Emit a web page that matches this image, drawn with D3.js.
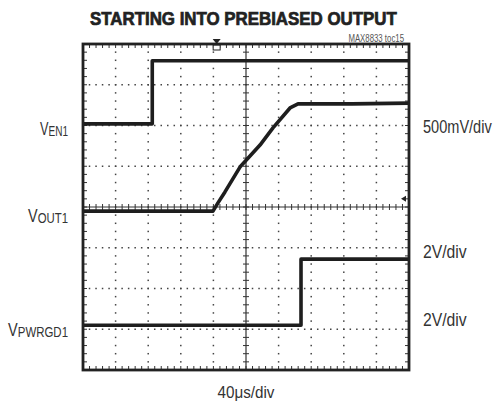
<!DOCTYPE html>
<html>
<head>
<meta charset="utf-8">
<script src="https://cdn.jsdelivr.net/npm/d3@7"></script>
<style>
  body { margin: 0; background: #fff; }
  svg { display: block; }
  .lbl { font-family: "Liberation Sans", Arial, sans-serif; fill: #333; }
</style>
</head>
<body>
<div id="chart"></div>
<script>
// scope trace data: time in µs (40µs/div), level in divisions from bottom of screen
const ven1Time = [0, 85, 85, 400];
const ven1Level = [6.04, 6.04, 7.59, 7.59];

const vout1Time = [0, 159.5, 165.6, 174.2, 192.6, 217.2, 233.1, 254.0, 263.8, 330, 400];
const vout1Level = [3.90, 3.90, 4.10, 4.37, 4.98, 5.52, 5.94, 6.43, 6.53, 6.53, 6.55];

const vpwrgdTime = [0, 267.5, 267.5, 400];
const vpwrgdLevel = [1.10, 1.10, 2.72, 2.72];

const leftLabels = [
    { main: "V", sub: "EN1", level: 6.04, width: 28 },
    { main: "V", sub: "OUT1", level: 3.90, width: 40 },
    { main: "V", sub: "PWRGD1", level: 1.10, width: 60 }
];
const rightLabels = [
    { text: "500mV/div", baseline: 133, width: 69 },
    { text: "2V/div", baseline: 258, width: 44 },
    { text: "2V/div", baseline: 326, width: 44 }
];

const triggerTime = 164;
const xDivs = 10, yDivs = 8;

// squeeze a text horizontally to a given width, keeping its anchor point fixed
function fitWidth(node, width, anchorX) {
    const w = node.getBBox().width;
    if (!w) return;
    const s = width / w;
    d3.select(node).attr("transform", `translate(${anchorX},0) scale(${s},1) translate(${-anchorX},0)`);
}

function drawScope(targetId) {
    const W = 497, H = 404;
    const frame = { left: 83, right: 409, top: 44, bottom: 370 };

    const svg = d3.select(`#${targetId}`)
        .append("svg")
        .attr("width", W)
        .attr("height", H);

    svg.append("rect").attr("width", W).attr("height", H).attr("fill", "#fff");

    const x = d3.scaleLinear().domain([0, 400]).range([frame.left, frame.right]);
    const y = d3.scaleLinear().domain([0, yDivs]).range([frame.bottom, frame.top]);
    const xd = d3.scaleLinear().domain([0, xDivs]).range([frame.left, frame.right]);

    const g = svg.append("g");

    // dotted graticule
    const minorX = d3.range(0, xDivs * 5 + 1).map(i => i / 5);
    const minorY = d3.range(0, yDivs * 5 + 1).map(i => i / 5);

    d3.range(1, xDivs).filter(i => i !== 5).forEach(i => {
        g.selectAll(null).data(minorY.slice(1, -1)).enter().append("rect")
            .attr("x", xd(i) - 0.75).attr("y", d => y(d) - 0.75)
            .attr("width", 1.5).attr("height", 1.5).attr("fill", "#444");
    });
    d3.range(1, yDivs).filter(j => j !== 4).forEach(j => {
        g.selectAll(null).data(minorX.slice(1, -1)).enter().append("rect")
            .attr("x", d => xd(d) - 0.75).attr("y", y(j) - 0.75)
            .attr("width", 1.5).attr("height", 1.5).attr("fill", "#444");
    });

    // centre axes with minor ticks
    g.append("line")
        .attr("x1", frame.left).attr("x2", frame.right)
        .attr("y1", y(4)).attr("y2", y(4))
        .attr("stroke", "#333").attr("stroke-width", 1.2);
    g.append("line")
        .attr("x1", xd(5)).attr("x2", xd(5))
        .attr("y1", frame.top).attr("y2", frame.bottom)
        .attr("stroke", "#333").attr("stroke-width", 1.2);
    g.selectAll(null).data(minorX).enter().append("line")
        .attr("x1", d => xd(d)).attr("x2", d => xd(d))
        .attr("y1", y(4) - 3).attr("y2", y(4) + 3)
        .attr("stroke", "#333").attr("stroke-width", 1);
    g.selectAll(null).data(minorY).enter().append("line")
        .attr("x1", xd(5) - 3).attr("x2", xd(5) + 3)
        .attr("y1", d => y(d)).attr("y2", d => y(d))
        .attr("stroke", "#333").attr("stroke-width", 1);

    // ticks on inner frame edges
    g.selectAll(null).data(minorX).enter().append("line")
        .attr("x1", d => xd(d)).attr("x2", d => xd(d))
        .attr("y1", frame.top).attr("y2", frame.top + 4)
        .attr("stroke", "#333");
    g.selectAll(null).data(minorX).enter().append("line")
        .attr("x1", d => xd(d)).attr("x2", d => xd(d))
        .attr("y1", frame.bottom).attr("y2", frame.bottom - 4)
        .attr("stroke", "#333");
    g.selectAll(null).data(minorY).enter().append("line")
        .attr("x1", frame.left).attr("x2", frame.left + 4)
        .attr("y1", d => y(d)).attr("y2", d => y(d))
        .attr("stroke", "#333");
    g.selectAll(null).data(minorY).enter().append("line")
        .attr("x1", frame.right).attr("x2", frame.right - 4)
        .attr("y1", d => y(d)).attr("y2", d => y(d))
        .attr("stroke", "#333");

    // traces
    const line = d3.line()
        .x(d => x(d[0]))
        .y(d => y(d[1]));

    const traces = [
        d3.zip(ven1Time, ven1Level),
        d3.zip(vout1Time, vout1Level),
        d3.zip(vpwrgdTime, vpwrgdLevel)
    ];
    g.selectAll("path.trace")
        .data(traces)
        .enter().append("path")
        .attr("class", "trace")
        .attr("d", line)
        .attr("fill", "none")
        .attr("stroke", "#1e1e1e")
        .attr("stroke-width", 3.6)
        .attr("stroke-linejoin", "round");

    // trigger marker at top and level marker at right
    const tx = x(triggerTime);
    g.append("path")
        .attr("d", `M${tx - 4},${frame.top - 5} L${tx + 4},${frame.top - 5} L${tx},${frame.top} Z`)
        .attr("fill", "#222");
    g.append("rect")
        .attr("x", tx - 3.5).attr("y", frame.top + 1)
        .attr("width", 7).attr("height", 5)
        .attr("fill", "#fff").attr("stroke", "#222");
    const ry = y(4.2);
    g.append("path")
        .attr("d", `M${frame.right - 8},${ry} L${frame.right - 3},${ry - 3} L${frame.right - 3},${ry + 3} Z`)
        .attr("fill", "#222");

    // frame
    g.append("rect")
        .attr("x", frame.left).attr("y", frame.top)
        .attr("width", frame.right - frame.left)
        .attr("height", frame.bottom - frame.top)
        .attr("fill", "none")
        .attr("stroke", "#222")
        .attr("stroke-width", 2.8);

    // title
    const title = svg.append("text")
        .attr("class", "lbl")
        .attr("x", 90).attr("y", 25)
        .style("font-size", "18px")
        .style("font-weight", "bold")
        .style("fill", "#222")
        .style("stroke", "#222")
        .style("stroke-width", 0.7)
        .text("STARTING INTO PREBIASED OUTPUT");
    fitWidth(title.node(), 307, 90);

    const tag = svg.append("text")
        .attr("class", "lbl")
        .attr("x", 404).attr("y", 42)
        .attr("text-anchor", "end")
        .style("font-size", "10px")
        .style("fill", "#555")
        .text("MAX8833 toc15");
    fitWidth(tag.node(), 56, 404);

    // channel names on the left
    svg.selectAll("text.chan")
        .data(leftLabels)
        .enter().append("text")
        .attr("class", "lbl chan")
        .attr("x", 68)
        .attr("y", d => y(d.level) + 11)
        .attr("text-anchor", "end")
        .style("font-size", "19px")
        .each(function (d) {
            const t = d3.select(this);
            t.append("tspan").text(d.main);
            t.append("tspan")
                .attr("dy", 1)
                .style("font-size", "15px")
                .text(d.sub);
            fitWidth(this, d.width, 68);
        });

    // scale labels on the right
    svg.selectAll("text.scale")
        .data(rightLabels)
        .enter().append("text")
        .attr("class", "lbl scale")
        .attr("x", 423)
        .attr("y", d => d.baseline)
        .style("font-size", "17.5px")
        .text(d => d.text)
        .each(function (d) { fitWidth(this, d.width, 423); });

    const xlab = svg.append("text")
        .attr("class", "lbl")
        .attr("x", xd(5)).attr("y", 398)
        .attr("text-anchor", "middle")
        .style("font-size", "16px")
        .text("40\u03bcs/div");
    fitWidth(xlab.node(), 57, xd(5));
}

drawScope("chart");
</script>
</body>
</html>
